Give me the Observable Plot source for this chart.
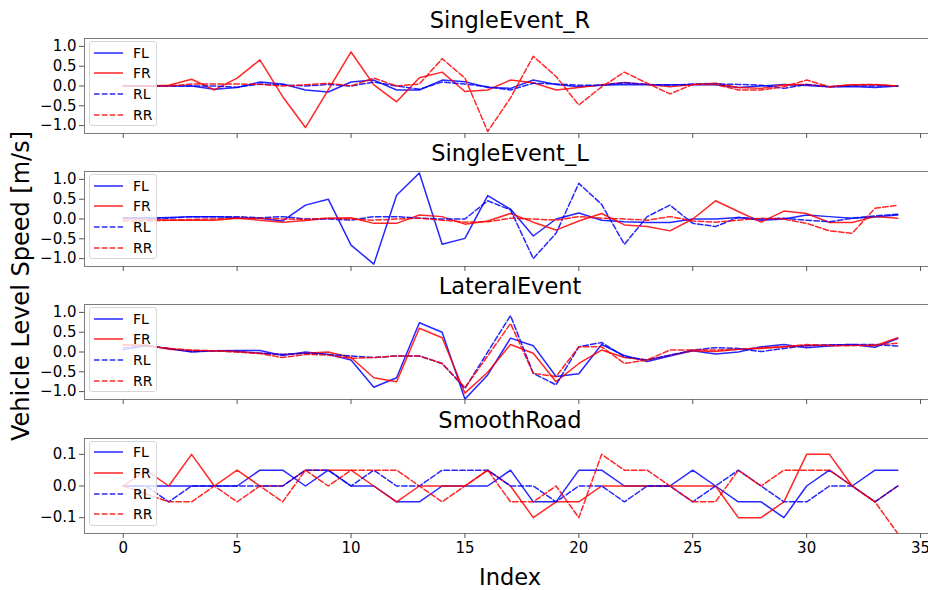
<!DOCTYPE html>
<html>
<head>
<meta charset="utf-8">
<script src="https://cdn.jsdelivr.net/npm/d3@7"></script>
<script src="https://cdn.jsdelivr.net/npm/@observablehq/plot@0.6"></script>
<style>
  body { margin: 0; background: #fff; font-family: "DejaVu Sans", sans-serif; }
  #fig { position: relative; width: 928px; height: 590px; overflow: hidden; background: #fff; }
  .panel { position: absolute; left: 0; }
  .title, .xlabel { position: absolute; left: 0; width: 1020px; text-align: center; font-size: 22.5px; line-height: 22.5px; color: #000; white-space: nowrap; }
  .ylabel { position: absolute; left: 21px; top: 286px; transform: translate(-50%, -50%) rotate(-90deg); font-size: 24px; white-space: nowrap; color: #000; }
  .legend { position: absolute; left: 89px; width: 68px; height: 85px; border: 1px solid #d6d6d6; border-radius: 3px; background: rgba(255,255,255,0.8); box-sizing: border-box; }
  .legend .row { position: absolute; left: 0; height: 20px; width: 68px; }
  .legend svg { position: absolute; left: 4px; top: 0; }
  .legend span { position: absolute; left: 43px; top: 1px; font-size: 14px; line-height: 18px; color: #000; }
</style>
</head>
<body>
<div id="fig"></div>
<script>
// ---------- data ----------
const xIndex = [0,1,2,3,4,5,6,7,8,9,10,11,12,13,14,15,16,17,18,19,20,21,22,23,24,25,26,27,28,29,30,31,32,33,34];
const xTicks = [0,5,10,15,20,25,30,35];
const seriesNames = ["FL", "FR", "RL", "RR"];
const panelNames = ["SingleEvent_R", "SingleEvent_L", "LateralEvent", "SmoothRoad"];
const yTicksLarge = [-1.0, -0.5, 0.0, 0.5, 1.0];
const yTicksSmall = [-0.1, 0.0, 0.1];

// SingleEvent_R
const sr_FL = [0,0,0,0,-0.08,-0.04,0.1,0.05,-0.1,-0.15,0.1,0.15,-0.1,-0.1,0.15,0.11,-0.04,-0.06,0.15,0.04,-0.02,0.02,0.04,0.03,0.03,0.03,0.03,-0.04,0,0.04,0.01,-0.02,-0.01,-0.04,0];
const sr_FR = [0,0,0.02,0.17,-0.1,0.2,0.66,-0.27,-1.05,-0.1,0.86,0.03,-0.4,0.21,0.35,-0.14,-0.1,0.15,0.08,-0.1,-0.04,0.03,0.09,0.04,-0.02,0.04,0.07,-0.04,-0.06,0.03,0.04,-0.02,0.03,0.03,0];
const sr_RL = [0,0,0,0,0,-0.03,0.05,0.03,0,0.04,0,0.1,0,-0.08,0.1,0.05,-0.02,-0.1,0.07,0.05,0.02,0.02,0.08,0.04,0.02,0.05,0.05,0.04,0.02,-0.06,0.04,-0.02,0,0,0];
const sr_RR = [0,0,0,0.05,0.05,0.05,0.04,0,0.03,0.07,0,0.2,0,0.05,0.69,0.2,-1.15,-0.3,0.75,0.24,-0.48,-0.02,0.35,0.07,-0.2,0.04,0.04,-0.1,-0.1,-0.02,0.15,-0.02,0.03,0.04,0];

// SingleEvent_L
const sl_FL = [0.03,0.02,0.04,0.06,0.06,0.03,0.02,-0.05,0.35,0.5,-0.66,-1.14,0.6,1.16,-0.64,-0.49,0.59,0.25,-0.43,0,0.15,-0.03,-0.07,-0.09,-0.09,0,0,0.04,-0.03,0,0.1,0.06,0.02,0.05,0.1];
const sl_FR = [0,0,-0.03,-0.03,-0.03,0.02,-0.03,-0.08,-0.04,0.02,0.03,-0.11,-0.11,0.1,0.06,-0.13,-0.05,0.14,-0.08,-0.28,-0.05,0.14,-0.15,-0.19,-0.3,0,0.46,0.19,-0.08,0.2,0.14,-0.09,-0.09,0.06,0.02];
const sl_RL = [0.03,0.03,0.02,0.06,0.06,0.06,0.03,0.06,0,0,-0.03,0.06,0.06,0.02,0,0,0.46,0.23,-1.0,-0.36,0.9,0.37,-0.64,0.06,0.35,-0.11,-0.19,0.04,0,0.02,-0.03,-0.07,0.02,0.08,0.12];
const sl_RR = [-0.05,-0.05,-0.03,-0.01,0,0.02,0.02,0,-0.01,0.02,0,-0.03,0,0.02,-0.03,-0.08,-0.07,0.02,0,-0.03,0.06,0.02,0,-0.03,0.06,-0.05,-0.08,-0.03,0.02,0,-0.11,-0.3,-0.36,0.27,0.35];

// LateralEvent
const le_FL = [0.06,0.16,0.09,0,0.03,0.04,0.04,-0.09,0,-0.06,-0.2,-0.89,-0.65,0.74,0.5,-1.19,-0.58,0.35,0.16,-0.62,-0.55,0.19,-0.09,-0.24,-0.1,0.03,-0.05,0,0.13,0.19,0.11,0.15,0.19,0.12,0.34];
const le_FR = [0.18,0.18,0.07,0.03,0.03,0.01,-0.03,-0.06,-0.03,0,-0.14,-0.65,-0.75,0.6,0.36,-1.04,-0.51,0.19,-0.03,-0.75,-0.29,0.05,-0.14,-0.2,-0.08,0.03,0.01,0.07,0.09,0.13,0.16,0.18,0.18,0.16,0.36];
const le_RL = [0.1,0.16,0.09,0.01,0.03,0.01,-0.03,-0.06,-0.03,-0.06,-0.1,-0.14,-0.1,-0.1,-0.29,-0.92,0,0.92,-0.54,-0.83,0.13,0.24,-0.12,-0.2,-0.08,0.05,0.11,0.09,0.01,0.09,0.16,0.18,0.19,0.19,0.15];
const le_RR = [0.18,0.16,0.09,0.05,0.03,0,-0.04,-0.14,-0.06,-0.08,-0.16,-0.14,-0.1,-0.1,-0.29,-0.9,-0.1,0.72,-0.54,-0.62,0.13,0.13,-0.29,-0.2,0.05,0.05,0.05,0.07,0.11,0.13,0.19,0.16,0.16,0.18,0.22];

// SmoothRoad
const sm_FL = [0,0,0,0,0,0,0.05,0.05,0,0.05,0,0,-0.05,-0.05,0,0,0,0.05,-0.05,-0.05,0.05,0.05,0,0,0,0.05,0,-0.05,-0.05,-0.1,0,0.05,0,0.05,0.05];
const sm_FR = [0,0.05,0,0.1,0,0.05,0,0,0.05,0.05,0.05,0,-0.05,0,0,0,0.05,0,-0.1,-0.05,-0.05,0,0,0,0,0,0,-0.1,-0.1,-0.05,0.1,0.1,0,-0.05,0];
const sm_RL = [0,0,-0.05,0,0,0,0,0,0.05,0.05,0,0.05,0,0,0.05,0.05,0.05,0,0,-0.05,0,0,-0.05,0,0,-0.05,0,0.05,0,-0.05,-0.05,0,0,-0.05,0];
const sm_RR = [0,-0.025,-0.05,-0.05,0,-0.05,0,-0.05,0.05,0,0.05,0.05,0.05,0,-0.05,0,0.05,-0.05,-0.05,0,-0.1,0.1,0.05,0.05,0,-0.05,-0.05,0.05,0,0.05,0.05,0.05,0,-0.05,-0.15];

const panelSeries = [
  [sr_FL, sr_FR, sr_RL, sr_RR],
  [sl_FL, sl_FR, sl_RL, sl_RR],
  [le_FL, le_FR, le_RL, le_RR],
  [sm_FL, sm_FR, sm_RL, sm_RR]
];
const yDomains = [[-1.2, 1.2], [-1.2, 1.2], [-1.2, 1.2], [-0.15, 0.15]];
const yTickSets = [yTicksLarge, yTicksLarge, yTicksLarge, yTicksSmall];

// ---------- styles ----------
const seriesStyle = {
  FL: {stroke: "#0000ff", dash: null},
  FR: {stroke: "#ff0000", dash: null},
  RL: {stroke: "#0000ff", dash: "5.5,2.4"},
  RR: {stroke: "#ff0000", dash: "5.5,2.4"}
};

const fig = document.getElementById("fig");
const frameTops = [38, 171, 304, 437.5];
const frameH = 95;

panelNames.forEach((name, k) => {
  const last = k === panelNames.length - 1;
  const mt = 10, mb = last ? 35 : 10;
  const lines = seriesNames.map((s, j) => {
    const vals = panelSeries[k][j];
    const st = seriesStyle[s];
    return Plot.line(vals, {
      x: xIndex, y: vals,
      stroke: st.stroke, strokeWidth: 1.5, strokeOpacity: 0.85,
      strokeDasharray: st.dash ?? undefined,
      clip: true
    });
  });
  const chart = Plot.plot({
    width: 940,
    height: mt + frameH + mb,
    marginLeft: 84, marginRight: 4, marginTop: mt, marginBottom: mb,
    style: {fontFamily: "DejaVu Sans, sans-serif", fontSize: "15px", background: "transparent", maxWidth: "none", overflow: "visible", color: "#000"},
    x: {domain: [-1.7, 35.7]},
    y: {domain: yDomains[k]},
    marks: [
      ...lines,
      Plot.frame({stroke: "#7a7a7a", strokeWidth: 1}),
      Plot.axisY({ticks: yTickSets[k], tickFormat: d3.format(".1f"), tickSize: 5, tickPadding: 3, stroke: "#555", fill: "#000", label: null, fontSize: 15}),
      Plot.axisX({ticks: xTicks, tickFormat: last ? d3.format("d") : () => "", tickSize: 5, tickPadding: 4, stroke: "#555", fill: "#000", label: null, fontSize: 15})
    ]
  });
  const wrap = document.createElement("div");
  wrap.className = "panel";
  wrap.style.top = (frameTops[k] - mt) + "px";
  wrap.appendChild(chart);
  fig.appendChild(wrap);

  // title
  const t = document.createElement("div");
  t.className = "title";
  t.style.top = (frameTops[k] - 29) + "px";
  t.textContent = name;
  fig.appendChild(t);

  // legend
  const lg = document.createElement("div");
  lg.className = "legend";
  lg.style.top = (frameTops[k] + 3) + "px";
  const rowCenters = [10.5, 31.3, 52.1, 72.9];
  seriesNames.forEach((s, j) => {
    const st = seriesStyle[s];
    const row = document.createElement("div");
    row.className = "row";
    row.style.top = (rowCenters[j] - 10) + "px";
    row.innerHTML = `<svg width="30" height="20"><line x1="0" x2="29" y1="10" y2="10" stroke="${st.stroke}" stroke-opacity="0.85" stroke-width="1.5" ${st.dash ? `stroke-dasharray="${st.dash}"` : ""}/></svg><span>${s}</span>`;
    lg.appendChild(row);
  });
  fig.appendChild(lg);
});

const xl = document.createElement("div");
xl.className = "xlabel";
xl.style.top = "566px";
xl.textContent = "Index";
fig.appendChild(xl);

const yl = document.createElement("div");
yl.className = "ylabel";
yl.textContent = "Vehicle Level Speed [m/s]";
fig.appendChild(yl);
</script>
</body>
</html>
